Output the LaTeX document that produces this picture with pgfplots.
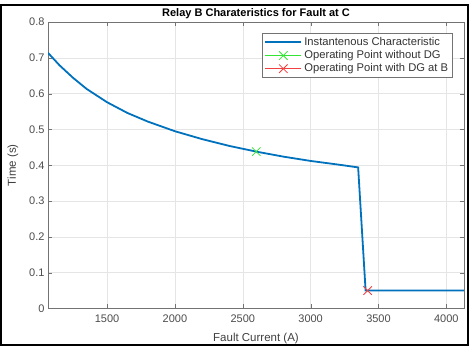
\documentclass[border=0pt]{standalone}
\usepackage{fontspec}
\setmainfont{Liberation Sans}
\usepackage{pgfplots}
\pgfplotsset{compat=1.18}
\definecolor{mblue}{rgb}{0,0.447,0.741}
\definecolor{mgray}{rgb}{0.45,0.45,0.45}
\definecolor{mgreen}{rgb}{0.2,0.9,0.2}
\definecolor{mred}{rgb}{0.95,0.25,0.25}
\begin{document}
\begin{tikzpicture}[x=1pt,y=1pt]
\begin{axis}[
  at={(0,0)}, anchor=south west,
  scale only axis, width=416pt, height=286.5pt,
  xmin=1065, xmax=4130, ymin=0, ymax=0.8,
  xtick={1500,2000,2500,3000,3500,4000},
  ytick={0,0.1,0.2,0.3,0.4,0.5,0.6,0.7,0.8},
  /pgf/number format/assume math mode=true,
  /pgf/number format/1000 sep={},
  yticklabel style={/pgf/number format/fixed,/pgf/number format/precision=1},
  xticklabel style={yshift=-3pt},
  tick label style={font=\fontsize{11}{13}\selectfont, text=black!70},
  label style={font=\fontsize{11.5}{13}\selectfont, text=black!75},
  title style={font=\bfseries\fontsize{11}{13}\selectfont, yshift=-6pt},
  title={Relay B Charateristics for Fault at C},
  xlabel={Fault Current (A)}, ylabel={Time (s)},
  xlabel style={yshift=-3pt}, ylabel style={yshift=4pt},
  grid=major, major grid style={black!10, line width=0.5pt},
  axis line style={mgray, line width=0.6pt},
  tick style={mgray}, tick align=inside, major tick length=4pt,
  legend style={at={(0.972,0.96)}, anchor=north east, draw=mgray,
    font=\fontsize{11.2}{13}\selectfont, inner sep=2pt, row sep=-0.5pt,
    cells={anchor=west, text=black!80}},
  legend image code/.code={\draw[mark repeat=2,mark phase=2] plot coordinates {(0pt,0pt) (18pt,0pt) (36pt,0pt)};},
]
\addplot[mblue, line width=1.8pt, legend image post style={line width=2pt}] coordinates {
(1065,0.714) (1150,0.679) (1250,0.644) (1350,0.613) (1500,0.576)
(1650,0.546) (1800,0.522) (2000,0.495) (2200,0.473) (2400,0.454)
(2600,0.438) (2800,0.424) (3000,0.412) (3200,0.402) (3350,0.394)
(3405,0.05) (4130,0.05)};
\addlegendentry{Instantenous Characteristic}
\addplot[mgreen, line width=0.7pt, mark=x, mark size=6pt, legend image post style={line width=0.8pt}] coordinates {(2600,0.438)};
\addlegendentry{Operating Point without DG}
\addplot[mred, line width=0.8pt, mark=x, mark size=6pt, legend image post style={line width=0.8pt}] coordinates {(3420,0.05)};
\addlegendentry{Operating Point with DG at B}
\end{axis}
\draw[black, line width=2pt] (-47,-37.5) -- (-47,303.5) -- (420,303.5) -- (420,-37.5);
\draw[black, line width=2pt] (-47,-36.5) -- (420,-36.5);
\useasboundingbox (-48,-37.5) rectangle (425,308.5);
\end{tikzpicture}
\end{document}
